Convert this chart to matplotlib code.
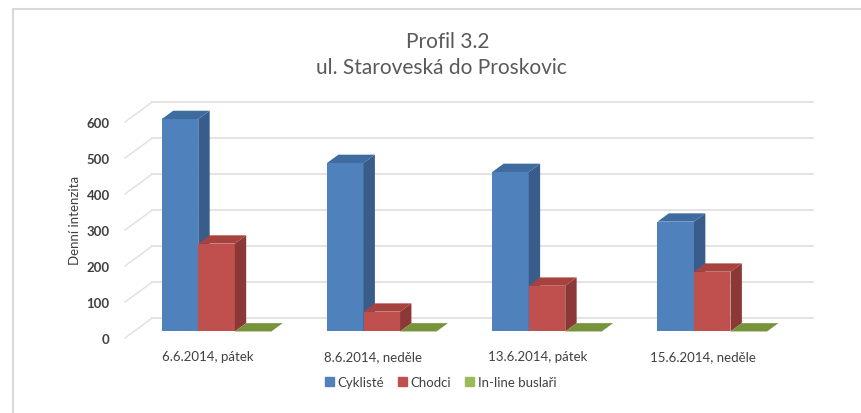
import matplotlib.pyplot as plt
from matplotlib.patches import Polygon, Rectangle

plt.rcParams['font.family'] = ['Lato', 'DejaVu Sans']

categories = ['6.6.2014, pátek', '8.6.2014, neděle', '13.6.2014, pátek', '15.6.2014, neděle']
series_names = ['Cyklisté', 'Chodci', 'In-line buslaři']
cyklisti = [590, 468, 443, 305]
chodci = [244, 55, 127, 166]
inline = [0, 0, 0, 0]
yticks = [0, 100, 200, 300, 400, 500, 600]

values = [cyklisti, chodci, inline]
front_col = ['#4f81bd', '#c0504d', '#9bbb59']
side_col = ['#385d8a', '#8c3836', '#71893f']
top_col = ['#3e6ba0', '#a8423f', '#77933c']

# oblique "3D" geometry (data units)
dx, dy = 0.164, 55.0      # full depth of the plot box
f0, f1 = 0.33, 0.75       # front / back of the bars as a fraction of depth
w = 0.221                 # bar width

fig = plt.figure(figsize=(8.62, 4.14), dpi=100)
fig.patches.append(Rectangle((13 / 862, -0.1), 1.2, 1 - 10 / 414 + 0.1,
                             transform=fig.transFigure, fill=False,
                             edgecolor='#d9d9d9', linewidth=1.5))

ax = fig.add_axes([125 / 862, 75 / 414, 688 / 862, 237.6 / 414])
ax.set_xlim(-0.5, 3.5 + dx)
ax.set_ylim(0, 660)
for s in ax.spines.values():
    s.set_visible(False)

# back wall gridlines and left diagonals
for v in yticks:
    ax.plot([-0.5 + dx, 3.5 + dx], [v + dy, v + dy], color='#e0e0e0', lw=1.3, zorder=1, clip_on=False)
    ax.plot([-0.5, -0.5 + dx], [v, v + dy], color='#e0e0e0', lw=1.0, zorder=1, clip_on=False)

bx0, by0 = f0 * dx, f0 * dy
bdx, bdy = (f1 - f0) * dx, (f1 - f0) * dy
z = 2
for i in range(len(categories)):
    for s in range(3):
        v = values[s][i]
        xl = i - 1.5 * w + s * w + bx0
        xr = xl + w
        y0 = by0
        ax.bar(xl, v, bottom=y0, width=w, align='edge', color=front_col[s], zorder=z, linewidth=0)
        ax.add_patch(Polygon([(xr, y0), (xr + bdx, y0 + bdy), (xr + bdx, y0 + v + bdy), (xr, y0 + v)],
                             closed=True, facecolor=side_col[s], edgecolor='none', zorder=z))
        ax.add_patch(Polygon([(xl, y0 + v), (xr, y0 + v), (xr + bdx, y0 + v + bdy), (xl + bdx, y0 + v + bdy)],
                             closed=True, facecolor=top_col[s], edgecolor='none', zorder=z))
        z += 1

ax.set_yticks(yticks)
ax.set_yticklabels([str(t) for t in yticks], fontsize=9.5, color='#404040', fontweight='bold')
ax.tick_params(axis='y', length=0, pad=11)
ax.set_xticks(range(len(categories)))
ax.set_xticklabels(categories, fontsize=9.5, color='#404040')
ax.tick_params(axis='x', length=0, pad=9)
ax.set_ylabel('Denní intenzita', fontsize=9.5, color='#404040', labelpad=4)

fig.text(0.52, 1 - 42 / 414, 'Profil 3.2', ha='center', va='center', fontsize=15, color='#595959')
fig.text(0.512, 1 - 68 / 414, 'ul. Staroveská do Proskovic', ha='center', va='center', fontsize=15, color='#595959')

handles = [Rectangle((0, 0), 1, 1, color=c) for c in front_col]
fig.legend(handles, series_names, loc='center', bbox_to_anchor=(0.511, 1 - 383 / 414), ncol=3,
           frameon=False, fontsize=9.5, handlelength=0.7, handleheight=0.7, handletextpad=0.3,
           columnspacing=1.0, labelcolor='#404040')

fig.savefig('out.png', dpi=100)
